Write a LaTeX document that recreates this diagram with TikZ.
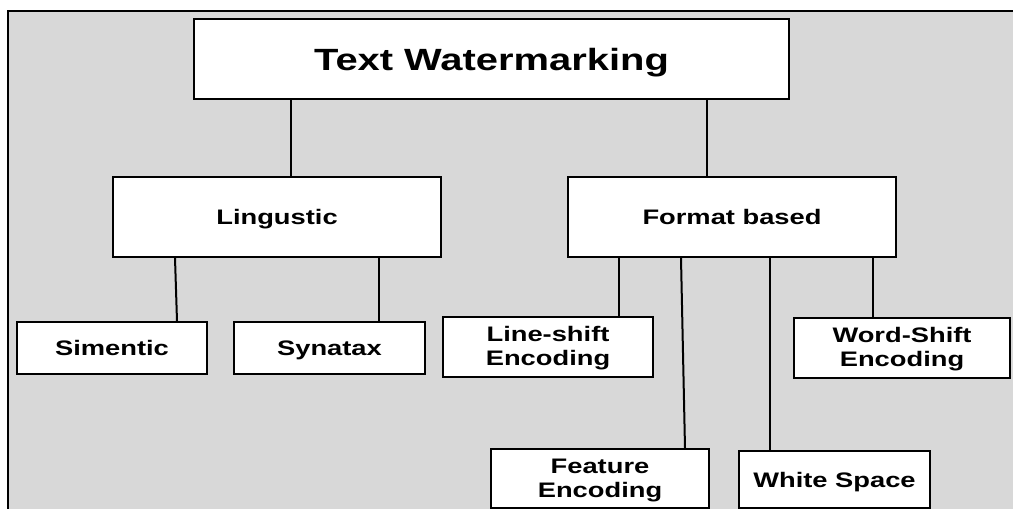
\documentclass[tikz,border=0pt]{standalone}
\usepackage{fontspec}
\usepackage{graphicx}
\setmainfont{Liberation Sans}
\definecolor{panel}{RGB}{216,216,216}
\newcommand{\wide}[1]{\scalebox{1.3}[1]{#1}}
\newcommand{\twoline}[2]{\raisebox{-2pt}[\height][\depth]{\wide{\begin{tabular}{@{}c@{}}#1\\#2\end{tabular}}}}
\tikzset{
  box/.style={draw=black, fill=white, line width=2pt, inner sep=0pt,
    font=\bfseries\fontsize{21}{24}\selectfont},
  onebox/.style={box, text height=15pt, text depth=0pt},
  titlebox/.style={box, font=\bfseries\fontsize{30.7}{36}\selectfont,
    text height=22pt, text depth=0pt},
  link/.style={draw=black, line width=2pt},
}
\begin{document}
\begin{tikzpicture}[x=1pt,y=-1pt]
\useasboundingbox (0,0) rectangle (1013,509);
\clip (0,0) rectangle (1013,509);
\fill[white] (0,0) rectangle (1013,509);
% grey panel with its frame
\draw[fill=panel, line width=2pt] (8,11) rectangle (1040,540);

% boxes
\node[titlebox, minimum width=595pt, minimum height=80pt] (top) at (491.5,59) {\wide{Text Watermarking}};
\node[onebox, minimum width=328pt, minimum height=80pt] (ling) at (277,217) {\wide{Lingustic}};
\node[onebox, minimum width=328pt, minimum height=80pt] (fmt) at (732,217) {\wide{Format based}};
\node[onebox, minimum width=190pt, minimum height=52pt] (sim) at (112,348) {\wide{Simentic}};
\node[onebox, minimum width=191pt, minimum height=52pt] (syn) at (329.5,348) {\wide{Synatax}};
\node[box, minimum width=210pt, minimum height=60pt] (lsh) at (548,347) {\twoline{Line-shift}{Encoding}};
\node[box, minimum width=216pt, minimum height=60pt] (wsh) at (902,348) {\twoline{Word-Shift}{Encoding}};
\node[box, minimum width=218pt, minimum height=59pt] (fea) at (600,478.5) {\twoline{Feature}{Encoding}};
\node[onebox, minimum width=191pt, minimum height=57pt] (wsp) at (834.5,479.5) {\wide{White Space}};

% x positions of the connectors
\coordinate (xa) at (291,0);
\coordinate (xb) at (707,0);
\coordinate (xc1) at (175,0);
\coordinate (xc2) at (177,0);
\coordinate (xd) at (379,0);
\coordinate (xe) at (619,0);
\coordinate (xf1) at (681,0);
\coordinate (xf2) at (685,0);
\coordinate (xg) at (770,0);
\coordinate (xh) at (873,0);

% connectors
\draw[link] (xa |- top.south) -- (xa |- ling.north);
\draw[link] (xb |- top.south) -- (xb |- fmt.north);
\draw[link] (xc1 |- ling.south) -- (xc2 |- sim.north);
\draw[link] (xd |- ling.south) -- (xd |- syn.north);
\draw[link] (xe |- fmt.south) -- (xe |- lsh.north);
\draw[link] (xf1 |- fmt.south) -- (xf2 |- fea.north);
\draw[link] (xg |- fmt.south) -- (xg |- wsp.north);
\draw[link] (xh |- fmt.south) -- (xh |- wsh.north);
\end{tikzpicture}
\end{document}
